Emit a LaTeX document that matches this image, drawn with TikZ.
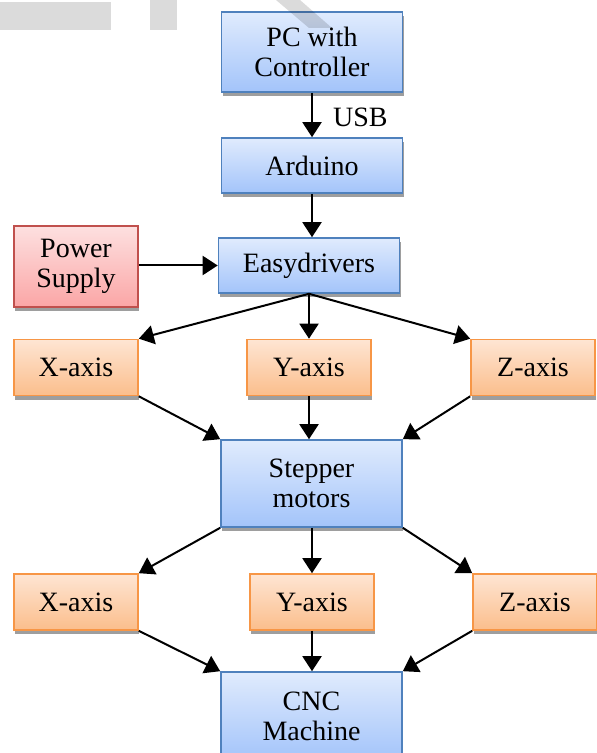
\documentclass[tikz,border=0pt]{standalone}
\usepackage{fontspec}
\setmainfont{Liberation Serif}
\usepackage{tikz}
\usetikzlibrary{arrows.meta,shadows,calc}

\definecolor{blueline}{HTML}{4F81BD}
\definecolor{bluetop}{HTML}{E0EBFD}
\definecolor{bluebot}{HTML}{A3C4FA}
\definecolor{orangeline}{HTML}{F79646}
\definecolor{orangetop}{HTML}{FEE5D3}
\definecolor{orangebot}{HTML}{FBBE8C}
\definecolor{redline}{HTML}{C0504D}
\definecolor{redtop}{HTML}{FDE0E0}
\definecolor{redbot}{HTML}{FBA6A6}

\begin{document}
\begin{tikzpicture}[x=0.5pt,y=-0.5pt,
  box/.style={draw, line width=0.8pt, align=center, inner sep=0pt,
    font=\fontsize{14}{15}\selectfont, shading angle=0,
    drop shadow={shadow xshift=0.6pt, shadow yshift=-2pt, fill=black!38, opacity=1}},
  bluebox/.style={box, draw=blueline, top color=bluetop, bottom color=bluebot, minimum width=90.5pt},
  axisbox/.style={box, draw=orangeline, top color=orangetop, bottom color=orangebot,
    minimum width=62pt, minimum height=28pt},
  arr/.style={-{Triangle[length=7.5pt,width=9.5pt]}, line width=1pt}]
\useasboundingbox (0,0) rectangle (596,753);

% main chain
\node[bluebox, minimum height=40pt] (pc) at (312,52) {PC with\\Controller};
\node[bluebox, minimum height=27.5pt] (ard) at (312,165.5) {Arduino};
\node[bluebox, minimum height=27.5pt] (easy) at (309,265.5) {Easydrivers};
\node[box, draw=redline, top color=redtop, bottom color=redbot,
  minimum width=62pt, minimum height=40.5pt] (power) at (76,266.5) {Power\\Supply};

% first axis row
\node[axisbox] (xa) at (76,367.5) {X-axis};
\node[axisbox] (ya) at (309,367.5) {Y-axis};
\node[axisbox] (za) at (533,367.5) {Z-axis};

\node[bluebox, minimum height=43.5pt] (motors) at (311.5,483.5) {Stepper\\motors};

% second axis row
\node[axisbox] (xb) at (76,602) {X-axis};
\node[axisbox] (yb) at (312,602) {Y-axis};
\node[axisbox] (zb) at (535,602) {Z-axis};

\node[bluebox, minimum height=44pt] (cnc) at (311.5,716) {CNC\\Machine};

% connectors
\draw[arr] (pc) -- (ard);
\node[anchor=west, font=\fontsize{14}{15}\selectfont] (usb) at (326,117) {USB};
\draw[arr] (ard) -- (ard |- easy.north);
\draw[arr] (power.east |- easy) -- (easy.west);
\foreach \t/\a in {xa/north east, ya/north, za/north west}
  \draw[arr] (easy.south) -- (\t.\a);
\foreach \s/\a/\b in {xa/south east/north west, za/south west/north east}
  \draw[arr] (\s.\a) -- (motors.\b);
\draw[arr] (ya) -- (ya |- motors.north);
\foreach \t/\a/\b in {xb/south west/north east, zb/south east/north west}
  \draw[arr] (motors.\a) -- (\t.\b);
\draw[arr] (yb |- motors.south) -- (yb);
\foreach \s/\a/\b in {xb/south east/north west, zb/south west/north east}
  \draw[arr] (\s.\a) -- (cnc.\b);
\draw[arr] (yb) -- (yb |- cnc.north);

% faint marks at the top
\fill[black, opacity=0.14] (0,2) rectangle (111,30);
\fill[black, opacity=0.14] (150,0) rectangle (177,30);
\fill[black, opacity=0.14] (276,0) -- (300,0) -- (332,28) -- (309,28) -- cycle;
\end{tikzpicture}
\end{document}
